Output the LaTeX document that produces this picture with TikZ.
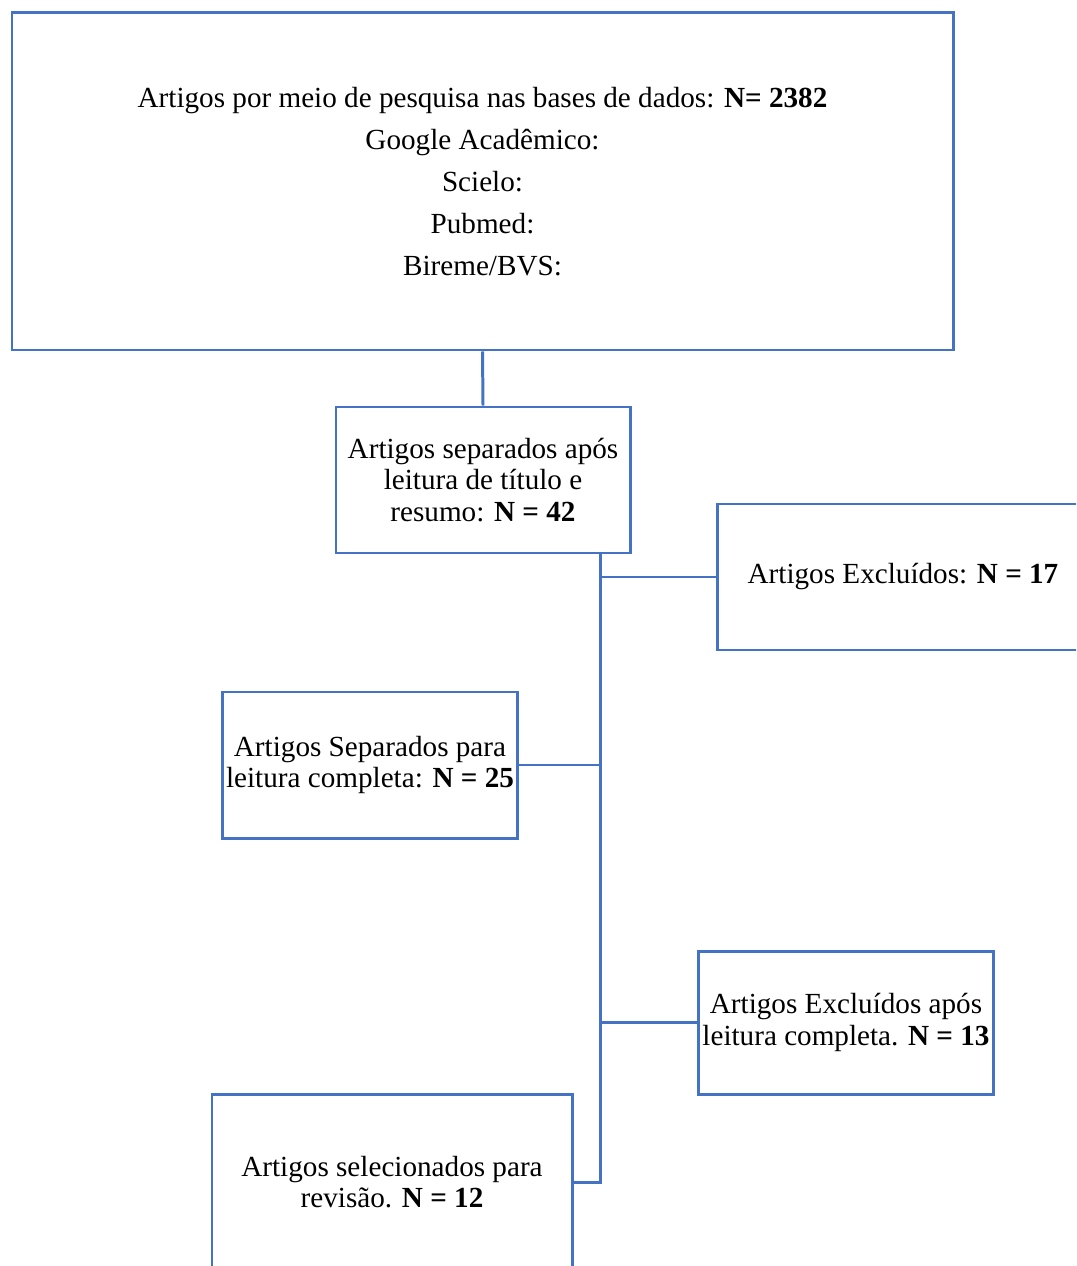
\documentclass[tikz,border=0pt]{standalone}
\usepackage{fontspec}
\setmainfont{Liberation Serif}
\usepackage{tikz}
\usetikzlibrary{positioning,calc}
\definecolor{wordblue}{RGB}{68,114,196}

\begin{document}
\begin{tikzpicture}[x=0.02cm, y=-0.02cm,
  box/.style={draw=wordblue, line width=1.7pt, fill=white,
    inner sep=2pt, align=center,
    font=\fontsize{16.6}{17.8}\selectfont},
  link/.style={draw=wordblue, line width=1.7pt}]

\useasboundingbox (0,0) rectangle (1076,1266);
\clip (0,0) rectangle (1076,1266);

% Nodes
\node[box, minimum width=941*0.02cm, minimum height=337*0.02cm,
  font=\fontsize{16.6}{23.8}\selectfont] (db) at (482.5,181.5)
  {Artigos por meio de pesquisa nas bases de dados: \textbf{N= 2382}\\
   Google Acadêmico:\\ Scielo:\\ Pubmed:\\ Bireme/BVS:};
\node[box, minimum width=294*0.02cm, minimum height=146*0.02cm] (screen) at (483,480)
  {Artigos separados após\\ leitura de título e\\ resumo: \textbf{N = 42}};
\node[box, minimum width=372*0.02cm, minimum height=146*0.02cm] (excl1) at (903,577)
  {Artigos Excluídos: \textbf{N = 17}};
\node[box, minimum width=294*0.02cm, minimum height=146*0.02cm] (full) at (370,765)
  {Artigos Separados para\\ leitura completa: \textbf{N = 25}};
\node[box, minimum width=294*0.02cm, minimum height=143*0.02cm] (excl2) at (846,1022.5)
  {Artigos Excluídos após\\ leitura completa. \textbf{N = 13}};
\node[box, minimum width=360*0.02cm, minimum height=176*0.02cm] (final) at (392,1182)
  {Artigos selecionados para\\ revisão. \textbf{N = 12}};

\coordinate (spine) at (600,0);

% Connectors
\draw[link] (db.south) -- (screen.north);
\draw[link] (screen.south -| spine) |- (final.east);
\draw[link] (excl1.west) -- (excl1.west -| spine);
\draw[link] (full.east) -- (full.east -| spine);
\draw[link] (excl2.west) -- (excl2.west -| spine);

\end{tikzpicture}
\end{document}
